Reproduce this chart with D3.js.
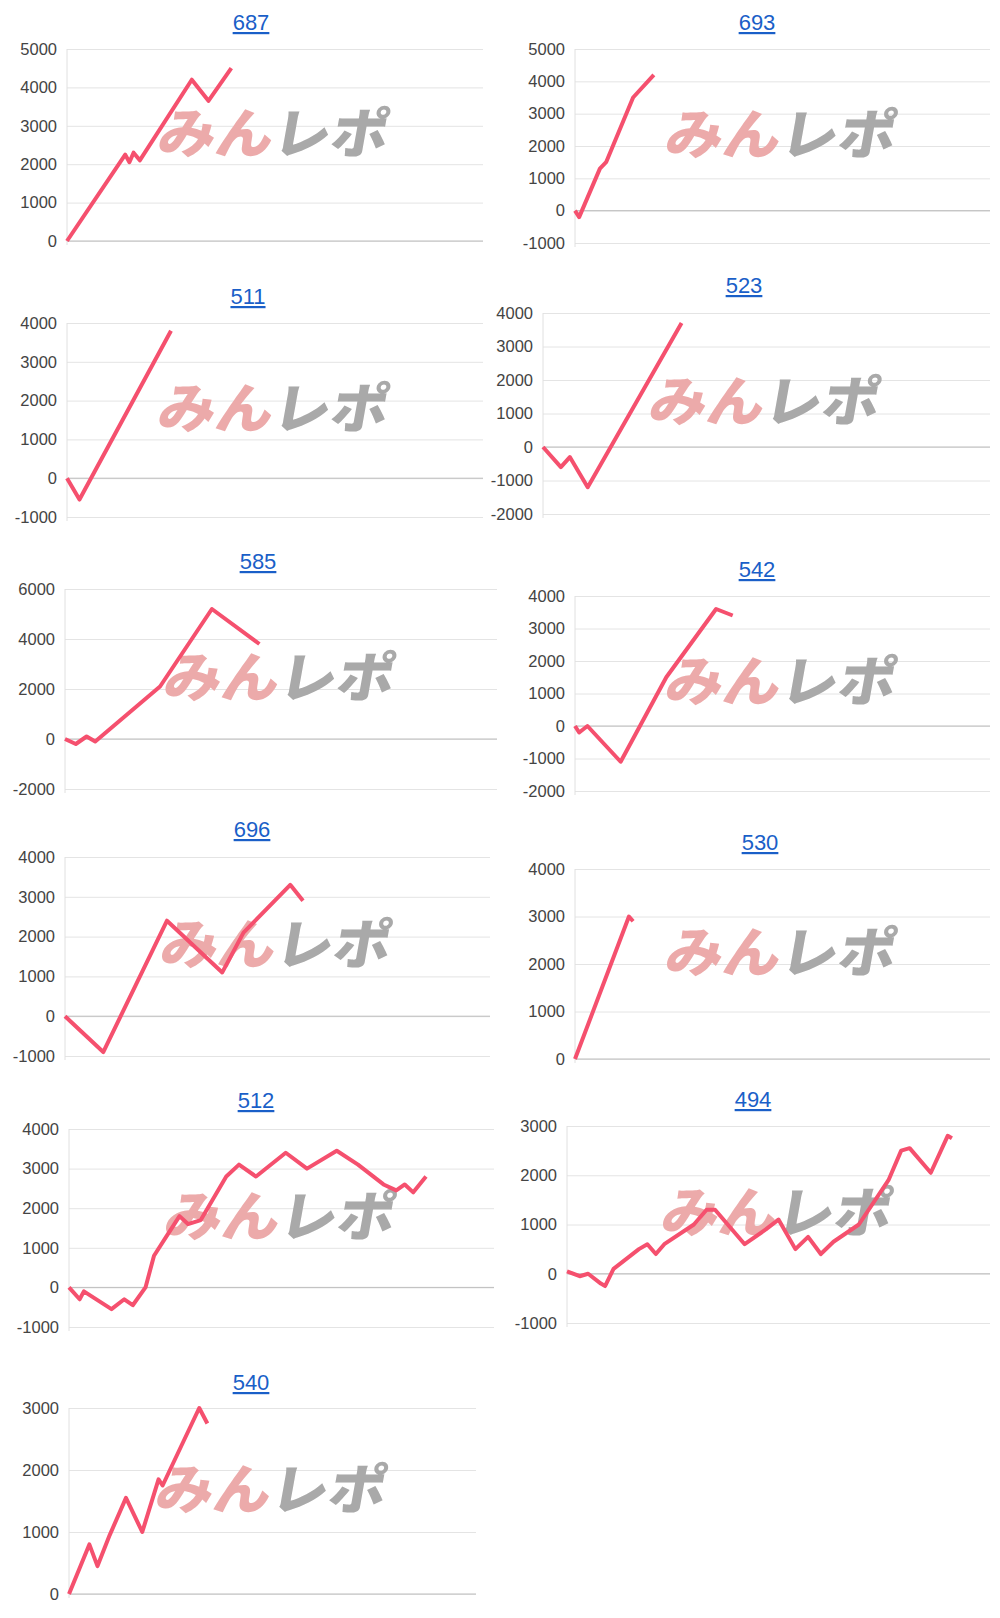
<!DOCTYPE html>
<html><head><meta charset="utf-8">
<script src="https://cdn.jsdelivr.net/npm/d3@7"></script>
<style>body{margin:0;background:#fff;font-family:"Liberation Sans",Arial,sans-serif}</style>
</head><body><svg id="c" width="1000" height="1618"></svg>
<script>
// machine numbers
var titles = ["687","693","511","523","585","542","696","530","512","494","540"];
// [game index, diff]
var s687 = [[0,0],[14,2250],[15,2050],[16,2300],[17.5,2100],[30,4200],[34,3650],[39.5,4500]];
var s693 = [[0,0],[1,-200],[6,1300],[7.5,1500],[14,3500],[19,4200]];
var s511 = [[0,0],[3,-550],[25,3800]];
var s523 = [[0,0],[4,-600],[6,-300],[10,-1200],[31,3700]];
var s585 = [[0,0],[2.5,-200],[5,100],[7,-100],[22,2100],[34,5200],[45,3800]];
var s542 = [[0,0],[1,-200],[3,0],[11,-1100],[22,1500],[34,3600],[38,3400]];
var s696 = [[0,0],[9,-900],[24,2400],[37,1100],[42,2100],[53,3300],[56,2900]];
var s530 = [[0,0],[13,3000],[14,2900]];
var s512 = [[0,0],[2.5,-300],[3.5,-100],[10,-550],[13,-300],[15,-450],[18,0],[20,800],[23,1300],[26,1800],[28,1600],[31,1700],[37,2800],[40,3100],[44,2800],[51,3400],[56,3000],[63,3450],[68,3100],[74,2600],[77,2450],[79,2600],[81,2400],[84,2800]];
var s494 = [[0,50],[3,-50],[5,0],[8,-200],[9,-250],[11,100],[17,500],[19,600],[21,400],[23,600],[30,1000],[33,1300],[35,1300],[42,600],[47,900],[50,1100],[54,500],[57,750],[60,400],[63,650],[69,1000],[76,1900],[79,2500],[81,2550],[86,2050],[90,2800],[91,2750]];
var s540 = [[0,0],[5,800],[7,450],[10,950],[14,1550],[18,1000],[22,1850],[23,1750],[32,3000],[34,2750]];
var series = [s687,s693,s511,s523,s585,s542,s696,s530,s512,s494,s540];
var yDomains = [[0,5000],[-1000,5000],[-1000,4000],[-2000,4000],[-2000,6000],[-2000,4000],[-1000,4000],[0,4000],[-1000,4000],[-1000,3000],[0,3000]];
var ySteps = [1000,1000,1000,1000,2000,1000,1000,1000,1000,1000,1000];

// panel boxes: left, right, title x, title y, top, bottom
var boxes = [
  [67,483,251,23,49,241],[575,990,757,23,49,243],
  [67,483,248,297,323,517],[543,990,744,286,313,514],
  [65,497,258,562,589,789],[575,990,757,570,596,791],
  [65,490,252,830,857,1056],[575,990,760,843,869,1059],
  [69,494,256,1101,1129,1327],[567,990,753,1100,1126,1323],
  [69,476,251,1383,1408,1594]
];

var svg = d3.select("#c");
series.forEach(function(data, i){
  var b = boxes[i];
  var x = d3.scaleLinear().domain([0,100]).range([b[0], b[1]]);
  var y = d3.scaleLinear().domain(yDomains[i]).range([b[5], b[4]]);
  var g = svg.append("g");
  var ticks = d3.range(yDomains[i][0], yDomains[i][1] + 1, ySteps[i]);

  g.append("g").attr("transform","translate(" + b[0] + ",0)")
    .call(d3.axisLeft(y).tickValues(ticks).tickFormat(function(d){return String(d);}).tickSize(-(b[1]-b[0])).tickPadding(10))
    .call(function(a){
      a.select(".domain").remove();
      a.selectAll("line").attr("stroke","#e4e4e4");
      a.selectAll("text").attr("fill","#444").style("font-size","16.5px").style("font-family","Liberation Sans,Arial");
    });
  var base = y(Math.max(0,yDomains[i][0]));
  g.append("line").attr("x1",b[0]).attr("x2",b[1]).attr("y1",base).attr("y2",base).attr("stroke","#bdbdbd");
  g.append("line").attr("x1",b[0]).attr("x2",b[0]).attr("y1",b[4]).attr("y2",b[5]+4).attr("stroke","#e0e0e0");

  // watermark
  var cx = b[0] + (b[1]-b[0])*0.49, cy = (b[4]+b[5])/2 - 12;
  var k = Math.tan(10*Math.PI/180);
  var wm = g.append("text").attr("x",cx).attr("y",cy+20).attr("text-anchor","middle")
    .attr("transform","translate(" + ((cy+20)*k) + ",0) skewX(-10)")
    .attr("textLength",230).attr("lengthAdjust","spacingAndGlyphs")
    .style("font-size","54px").style("font-weight","900").style("font-family","Noto Sans CJK JP");
  wm.append("tspan").attr("fill","#ecaaaa").text("みん");
  wm.append("tspan").attr("fill","#a9a9a9").text("レポ");

  g.append("path").datum(data)
    .attr("d", d3.line().x(function(d){return x(d[0]);}).y(function(d){return y(d[1]);}))
    .attr("fill","none").attr("stroke","#f5506e").attr("stroke-width",4).attr("stroke-linejoin","round");

  g.append("text").attr("x",b[2]).attr("y",b[3]+7).attr("text-anchor","middle")
    .attr("fill","#1a5fc8").style("font-size","22px").style("text-decoration","underline").text(titles[i]);
});
</script></body></html>
